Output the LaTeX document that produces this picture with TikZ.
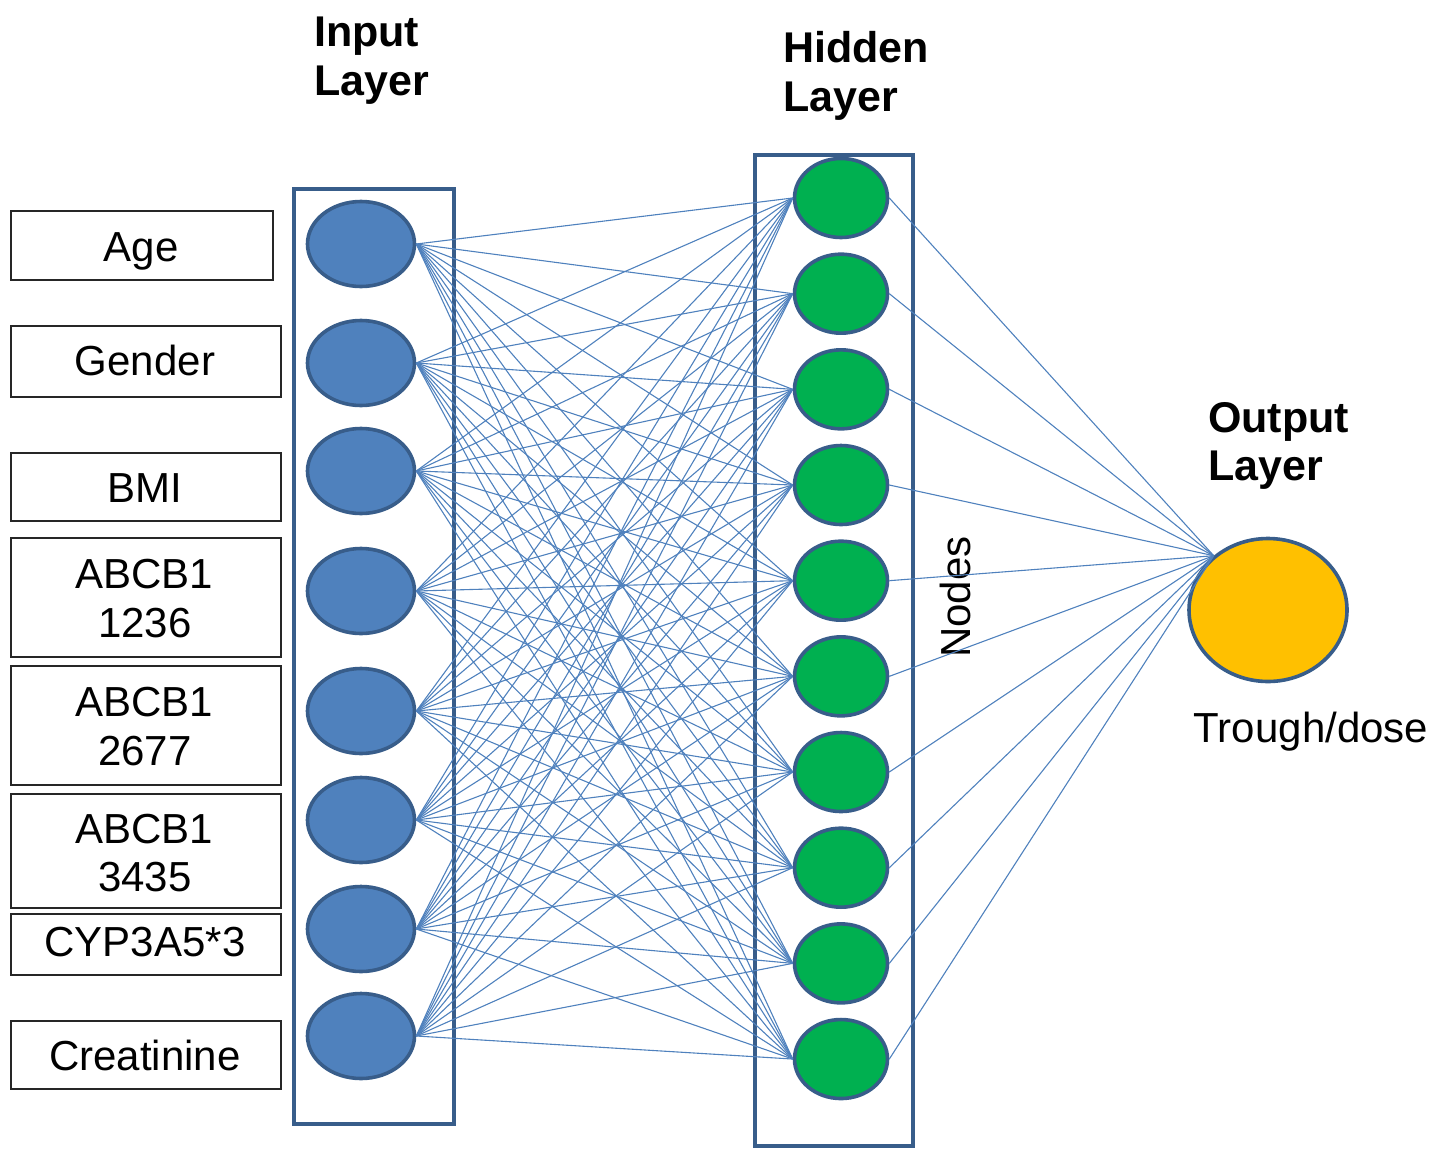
\documentclass[tikz,border=0pt]{standalone}
\usepackage{fontspec}
\setmainfont{Liberation Sans}
\usetikzlibrary{shapes.geometric}
\definecolor{inblue}{HTML}{4F81BD}
\definecolor{edgeblue}{HTML}{385D8A}
\definecolor{hidgreen}{HTML}{00B050}
\definecolor{outgold}{HTML}{FFC000}
\begin{document}
\begin{tikzpicture}[x=1pt,y=-1pt,
  labelbox/.style={draw=black!85, line width=1.8pt, minimum width=270pt, inner sep=0pt},
  labeltext/.style={anchor=base, inner sep=0pt, font=\fontsize{42}{48}\selectfont},
  heading/.style={anchor=base west, inner sep=0pt, font=\fontsize{43}{48}\selectfont\bfseries},
  layerbox/.style={draw=edgeblue, line width=4pt, inner sep=0pt},
  innode/.style={ellipse, draw=edgeblue, fill=inblue, line width=3.6pt, minimum width=107pt, minimum height=85pt, inner sep=0pt},
  hidnode/.style={ellipse, draw=edgeblue, fill=hidgreen, line width=3.6pt, minimum width=93pt, minimum height=79pt, inner sep=0pt},
  outnode/.style={ellipse, draw=edgeblue, fill=outgold, line width=3.6pt, minimum width=158pt, minimum height=143pt, inner sep=0pt},
  conn/.style={draw=inblue, line width=1.1pt}
]
\useasboundingbox (0,0) rectangle (1447,1148);

% headings
\node[heading] (hin1) at (314,47) {Input};
\node[heading] (hin2) at (314,95) {Layer};
\node[heading] (hhid1) at (783,63) {Hidden};
\node[heading] (hhid2) at (783,111) {Layer};
\node[heading] (hout1) at (1208,432) {Output};
\node[heading] (hout2) at (1208,480) {Layer};

% label boxes
\node[labelbox, minimum width=262pt, minimum height=69pt] (bage) at (142,245.5) {};
\node[labeltext] (tage) at (141,261) {Age};
\node[labelbox, minimum height=71pt] (bgen) at (146,361.5) {};
\node[labeltext] (tgen) at (145,375) {Gender};
\node[labelbox, minimum height=68pt] (bbmi) at (146,487) {};
\node[labeltext] (tbmi) at (145,502) {BMI};
\node[labelbox, minimum height=119pt] (ba1) at (146,597.5) {};
\node[labeltext] (ta1a) at (144,588) {ABCB1};
\node[labeltext] (ta1b) at (145,637) {1236};
\node[labelbox, minimum height=119pt] (ba2) at (146,725.5) {};
\node[labeltext] (ta2a) at (144,716) {ABCB1};
\node[labeltext] (ta2b) at (145,765) {2677};
\node[labelbox, minimum height=114pt] (ba3) at (146,851) {};
\node[labeltext] (ta3a) at (144,843) {ABCB1};
\node[labeltext] (ta3b) at (145,891) {3435};
\node[labelbox, minimum height=61pt] (bcyp) at (146,944.5) {};
\node[labeltext] (tcyp) at (145,956) {CYP3A5*3};
\node[labelbox, minimum height=68pt] (bcre) at (146,1055) {};
\node[labeltext] (tcre) at (145,1070) {Creatinine};

% layer boxes
\node[layerbox, minimum width=160pt, minimum height=935pt] (inbox) at (374,656.5) {};
\node[layerbox, minimum width=158pt, minimum height=991pt] (hidbox) at (834,650.5) {};

% input nodes
\foreach \y [count=\i] in {244,363,471,591,711,820,929,1036}
  \node[innode] (in\i) at (361,\y) {};

% hidden nodes
\foreach \j in {1,...,10}
  \node[hidnode] (h\j) at (841,{198+95.67*(\j-1)}) {};

% output node
\node[outnode] (out) at (1268,610) {};
\node[labeltext] (tout) at (1311,742) {Trough/dose};
\node[rotate=90, inner sep=0pt, font=\fontsize{42}{48}\selectfont] (tnodes) at (955,597) {Nodes};

% connections
\foreach \i in {1,...,8}
  \foreach \j in {1,...,10}
    \draw[conn] (in\i.east) -- (h\j.west);
\foreach \j in {1,...,10}
  \draw[conn] (h\j.east) -- (out.135);
\end{tikzpicture}
\end{document}
